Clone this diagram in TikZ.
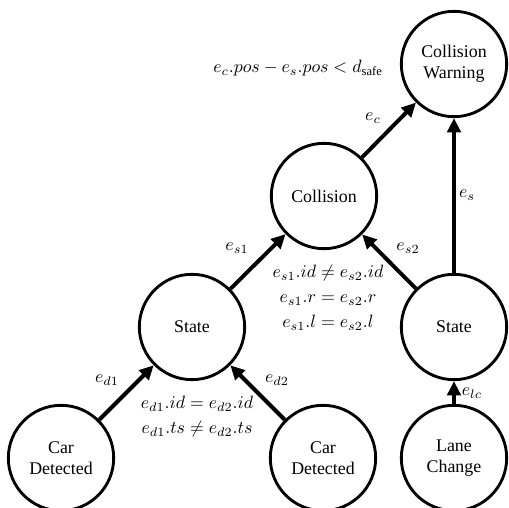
\documentclass[tikz,border=0pt]{standalone}
\usepackage{amsmath}
\usepackage{fontspec}
\setmainfont{Liberation Serif}
\usetikzlibrary{arrows.meta}
\begin{document}
\begin{tikzpicture}[x=0.56pt,y=-0.56pt,
  evt/.style={circle,draw,line width=1.6pt,minimum size=59pt,inner sep=0pt,align=center,font=\normalsize},
  flow/.style={line width=2.2pt,-{Triangle[length=8pt,width=7.5pt]}},
  lbl/.style={inner sep=1pt}]
\useasboundingbox (0,0) rectangle (508,508);
\node[evt] (cw)   at (454,64)  {Collision\\Warning};
\node[evt] (col)  at (324,196) {Collision};
\node[evt] (st1)  at (192,327) {State};
\node[evt] (st2)  at (454,327) {State};
\node[evt] (car1) at (61,458)  {Car\\Detected};
\node[evt] (car2) at (323,458) {Car\\Detected};
\node[evt] (lane) at (454,458) {Lane\\Change};

\draw[flow] (car1) -- (st1);
\draw[flow] (car2) -- (st1);
\draw[flow] (st1) -- (col);
\draw[flow] (st2) -- (col);
\draw[flow] (col) -- (cw);
\draw[flow] (st2) -- (cw);
\draw[flow] (lane) -- (st2);

\node[lbl] (cond) at (298,68) {$e_c.pos - e_s.pos < d_{\text{safe}}$};
\node[lbl] (lec)  at (373,118) {$e_c$};
\node[lbl] (les)  at (467,195) {$e_s$};
\node[lbl] (les1) at (237,248) {$e_{s1}$};
\node[lbl] (les2) at (408,248) {$e_{s2}$};
\node[lbl,align=center] (scond) at (328,298) {$e_{s1}.id \neq e_{s2}.id$\\[2pt]$e_{s1}.r = e_{s2}.r$\\[2pt]$e_{s1}.l = e_{s2}.l$};
\node[lbl] (led1) at (107,380) {$e_{d1}$};
\node[lbl] (led2) at (277,380) {$e_{d2}$};
\node[lbl,align=center] (dcond) at (197,417) {$e_{d1}.id = e_{d2}.id$\\[2pt]$e_{d1}.ts \neq e_{d2}.ts$};
\node[lbl] (lelc) at (472,393) {$e_{lc}$};
\end{tikzpicture}
\end{document}
